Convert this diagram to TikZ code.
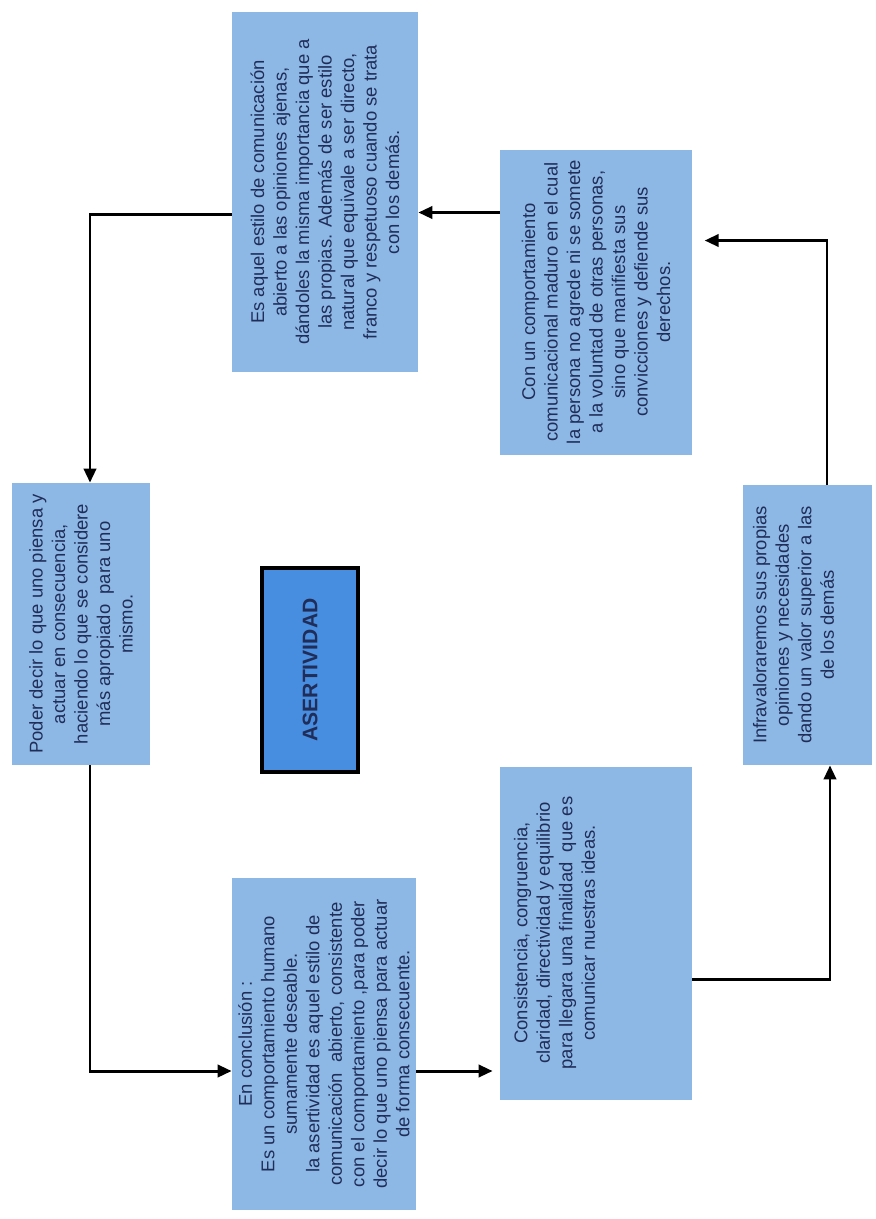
\documentclass[tikz,border=0pt]{standalone}
\usepackage{fontspec}
\setmainfont{Liberation Sans}
\usetikzlibrary{arrows.meta,positioning,calc}
\definecolor{boxblue}{RGB}{141,184,229}
\definecolor{darkblue}{RGB}{32,45,88}
\definecolor{midblue}{RGB}{72,142,224}

\begin{document}
\begin{tikzpicture}[
	x=0.2mm, y=-0.2mm,
	>={Triangle[length=8pt,width=7pt]},
	box/.style={
		fill=boxblue,
		rotate=90,
		align=center,
		inner sep=2pt,
		text=darkblue,
		font=\fontsize{10.5}{12.8}\selectfont
	},
	txt/.style={
		rotate=90,
		align=center,
		inner sep=2pt,
		text=darkblue,
		font=\fontsize{10.5}{12.8}\selectfont
	},
	titulo/.style={
		draw,
		line width=2.5pt,
		fill=midblue,
		rotate=90,
		minimum width=4.08cm,
		minimum height=1.92cm,
		text=darkblue,
		font=\bfseries\fontsize{12}{14}\selectfont
	},
	link/.style={->, line width=1.7pt}
	]
	\useasboundingbox[fill=white] (0,0) rectangle (875,1219);

	\node[box,minimum width=7.2cm,minimum height=3.72cm] (esaquel) at (325,192)
	{Es aquel estilo de comunicación\\
	abierto a las opiniones ajenas,\\
	dándoles la misma importancia que a\\
	las propias. Además de ser estilo\\
	natural que equivale a ser directo,\\
	franco y respetuoso cuando se trata\\
	con los demás.};

	\node[box,minimum width=6.1cm,minimum height=3.84cm] (con) at (596,302)
	{Con un comportamiento\\
	comunicacional maduro en el cual\\
	la persona no agrede ni se somete\\
	a la voluntad de otras personas,\\
	sino que manifiesta sus\\
	convicciones y defiende sus\\
	derechos.};

	\node[box,minimum width=5.64cm,minimum height=2.76cm] (poder) at (81,624)
	{Poder decir lo que uno piensa y\\
	actuar en consecuencia,\\
	haciendo lo que se considere\\
	más apropiado~ para uno\\
	mismo.};

	\node[titulo] (aser) at (310,670) {ASERTIVIDAD};

	\node[box,minimum width=6.66cm,minimum height=3.84cm] (cons) at (596,933) {};
	\node[txt,anchor=north] (consT) at ([xshift=6pt]cons.north)
	{Consistencia, congruencia,\\
	claridad, directividad y equilibrio\\
	para llegara una finalidad~ que es\\
	comunicar nuestras ideas.};

	\node[box,minimum width=6.64cm,minimum height=3.68cm] (concl) at (324,1044)
	{En conclusión :\\
	Es un comportamiento humano\\
	sumamente deseable.\\
	la asertividad es aquel estilo de\\
	comunicación~ abierto, consistente\\
	con el comportamiento ,para poder\\
	decir lo que uno piensa para actuar\\
	de forma consecuente.};

	\node[box,minimum width=5.6cm,minimum height=2.58cm] (infra) at (807,625) {};
	\node[txt,anchor=north] (infraT) at ([xshift=4pt]infra.north)
	{Infravaloraremos sus propias\\
	opiniones y necesidades\\
	dando un valor superior a las\\
	de los demás};

	% ciclo de flechas
	\draw[link] ([yshift=-0.44cm]esaquel.north) -| ([xshift=0.18cm]poder.east);
	\draw[link] ([xshift=0.18cm]poder.west) |- ([yshift=-0.54cm]concl.north);
	\coordinate (c1) at ([yshift=-0.54cm]concl.south);
	\draw[link,shorten >=4pt] (c1) -- (c1 -| cons.north);
	\draw[link] ([yshift=-0.93cm]cons.south) -| ([xshift=0.46cm]infra.west);
	\draw[link,shorten >=7pt] ([xshift=0.4cm]infra.east) |- ([yshift=1.23cm]con.south);
	\coordinate (c2) at ([yshift=1.79cm]con.north);
	\draw[link] (c2) -- (c2 -| esaquel.south);

\end{tikzpicture}
\end{document}
